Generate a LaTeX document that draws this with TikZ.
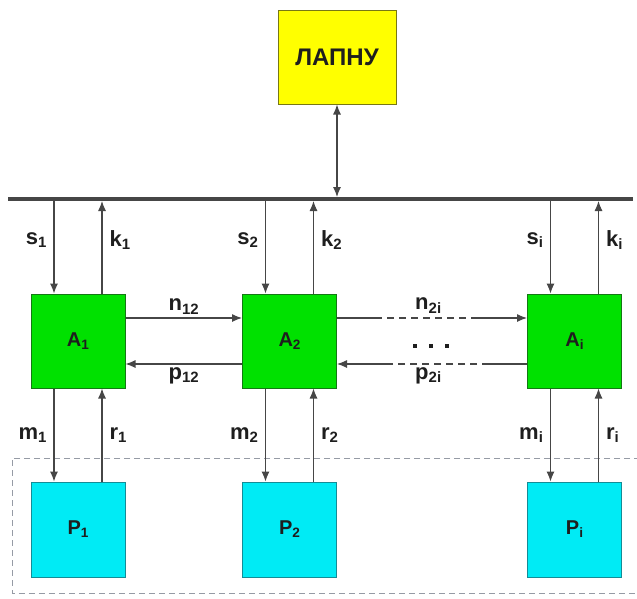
\documentclass[tikz,border=0pt]{standalone}
\usepackage{fontspec}
\setmainfont{Liberation Sans}
\usetikzlibrary{arrows.meta}

\definecolor{yellowfill}{RGB}{255,255,0}
\definecolor{yellowedge}{RGB}{120,120,20}
\definecolor{greenfill}{RGB}{0,225,0}
\definecolor{greenedge}{RGB}{20,120,20}
\definecolor{cyanfill}{RGB}{0,235,245}
\definecolor{cyanedge}{RGB}{20,140,150}
\definecolor{wire}{RGB}{70,70,70}
\definecolor{inktext}{RGB}{30,30,30}
\definecolor{frame}{RGB}{150,155,165}

% lowered index in a fixed size
\newcommand{\lowidx}[2][0.68]{\raisebox{-0.16em}{\fontsize{#1em}{#1em}\selectfont #2}}

\tikzset{
  unit/.style={draw, line width=1pt, inner sep=0pt, minimum width=94pt, minimum height=94pt,
    font=\fontsize{20}{23}\selectfont\bfseries, text=inktext},
  top/.style={unit, fill=yellowfill, draw=yellowedge, minimum width=118pt,
    font=\fontsize{24}{27}\selectfont\bfseries},
  agent/.style={unit, fill=greenfill, draw=greenedge},
  proc/.style={unit, fill=cyanfill, draw=cyanedge, minimum height=95pt},
  link/.style={draw=wire, line width=1.1pt, -{Latex[length=10pt,width=8pt]}},
  biglink/.style={link, {Latex[length=10pt,width=8pt]}-{Latex[length=10pt,width=8pt]}},
  lbl/.style={font=\fontsize{22}{25}\selectfont\bfseries, text=inktext, inner sep=0pt},
  broken/.style={dash pattern=on 45pt off 5pt on 7pt off 5pt on 7pt off 5pt on 7pt off 5pt on 7pt off 5pt on 7pt off 5pt on 7pt off 5pt on 7pt off 5pt on 200pt},
  dot/.style={fill=inktext, inner sep=0pt, minimum size=3.2pt}
}

\begin{document}
\begin{tikzpicture}[x=1pt, y=-1pt]
\useasboundingbox (0,0) rectangle (637,598);

% processing boundary
\draw[frame, line width=1pt, dash pattern=on 6pt off 4pt] (650,458) -- (12,458) -- (12,593) -- (650,593);

% top unit and bus
\node[top] (lapnu) at (337,57) {ЛАПНУ};
\coordinate (busL) at (8,199);
\coordinate (busR) at (633,199);
\coordinate (busTop) at (0,197);
\coordinate (busBot) at (0,201);
\draw[wire, line width=3.5pt] (busL) -- (busR);
\draw[biglink] (lapnu.south) -- (lapnu.south |- busTop);

% agents
\node[agent] (A1) at (78,341) {A\lowidx{1}};
\node[agent] (A2) at (289.5,341) {A\lowidx{2}};
\node[agent] (Ai) at (574.5,341) {A\lowidx{i}};

% processes
\node[proc] (P1) at (78,529.5) {P\lowidx{1}};
\node[proc] (P2) at (289.5,529.5) {P\lowidx{2}};
\node[proc] (Pi) at (574.5,529.5) {P\lowidx{i}};

% ports on the agents
\foreach \a in {1,2,i}{
  \coordinate (A\a s) at ([xshift=-24pt]A\a.north);
  \coordinate (A\a k) at ([xshift=24pt]A\a.north);
  \coordinate (P\a m) at ([xshift=-24pt]P\a.north);
  \coordinate (P\a r) at ([xshift=24pt]P\a.north);
}

% bus <-> agents, agents <-> processes
\foreach \a in {1,2,i}{
  \draw[link] (A\a s |- busBot) -- node[lbl, pos=0.42, left=7pt] {s\lowidx{\a}} (A\a s);
  \draw[link] (A\a k) -- node[lbl, pos=0.58, right=7pt] {k\lowidx{\a}} (A\a k |- busBot);
  \draw[link] (A\a s |- A\a.south) -- node[lbl, midway, left=7pt] {m\lowidx{\a}} (P\a m);
  \draw[link] (P\a r) -- node[lbl, midway, right=7pt] {r\lowidx{\a}} (P\a r |- A\a.south);
}

% agent <-> agent
\draw[link] ([yshift=23pt]A1.east) -- node[lbl, midway, above=3pt] {n\lowidx{12}} ([yshift=23pt]A2.west);
\draw[link] ([yshift=-23pt]A2.west) -- node[lbl, midway, below=3pt] {p\lowidx{12}} ([yshift=-23pt]A1.east);
\draw[link, broken] ([yshift=23pt]A2.east) -- node[lbl, pos=0.48, above=4pt] {n\lowidx{2i}} ([yshift=23pt]Ai.west);
\draw[link, broken] ([yshift=-23pt]Ai.west) -- node[lbl, pos=0.52, below=3pt] {p\lowidx{2i}} ([yshift=-23pt]A2.east);
\node[dot] (dot1) at (415,346) {};
\node[dot] (dot2) at (431,346) {};
\node[dot] (dot3) at (447,346) {};
\end{tikzpicture}
\end{document}
